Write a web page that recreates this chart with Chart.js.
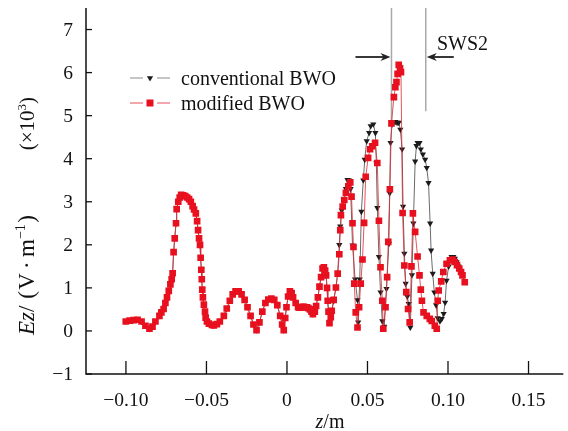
<!DOCTYPE html>
<html>
<head>
<meta charset="utf-8">
<title>Ez along z: conventional vs modified BWO</title>
<script src="https://cdn.jsdelivr.net/npm/chart.js@4.4.0/dist/chart.umd.min.js"></script>
<style>
  html, body { margin: 0; padding: 0; background: #fff; }
  canvas { display: block; }
</style>
</head>
<body>
<canvas id="ez-chart" width="568" height="431"></canvas>
<script>
const xTickValues = [-0.10, -0.05, 0, 0.05, 0.10, 0.15];
const xTickLabels = ['−0.10', '−0.05', '0', '0.05', '0.10', '0.15'];
const yTickValues = [-1, 0, 1, 2, 3, 4, 5, 6, 7];
const seriesNames = ['conventional BWO', 'modified BWO'];
const sws2Bounds = [0.0649, 0.0862];

// [z (m), Ez (x10^3 V/m)]; the two BWOs coincide up to z ~ 0.026
const sharedHead = [
  [-0.1001, 0.22], [-0.0977, 0.24], [-0.0952, 0.25], [-0.0928, 0.26], [-0.0903, 0.22], [-0.0879, 0.12],
  [-0.0854, 0.05], [-0.0835, 0.10], [-0.0817, 0.22], [-0.0792, 0.35], [-0.0780, 0.43], [-0.0766, 0.51],
  [-0.0755, 0.65], [-0.0745, 0.78], [-0.0734, 0.93], [-0.0724, 1.08], [-0.0716, 1.20], [-0.0710, 1.34],
  [-0.0704, 1.83], [-0.0697, 2.15], [-0.0689, 2.50], [-0.0685, 2.83], [-0.0675, 3.00], [-0.0666, 3.10],
  [-0.0657, 3.16], [-0.0645, 3.15], [-0.0632, 3.13], [-0.0620, 3.10], [-0.0608, 3.06], [-0.0597, 3.00],
  [-0.0586, 2.90], [-0.0577, 2.82], [-0.0566, 2.73], [-0.0558, 2.55], [-0.0552, 2.34], [-0.0546, 2.15],
  [-0.0540, 2.00], [-0.0536, 1.70], [-0.0532, 1.42], [-0.0529, 1.20], [-0.0526, 0.96], [-0.0522, 0.78],
  [-0.0516, 0.61], [-0.0509, 0.45], [-0.0505, 0.31], [-0.0497, 0.22], [-0.0485, 0.17], [-0.0466, 0.14],
  [-0.0454, 0.13], [-0.0435, 0.16], [-0.0417, 0.22], [-0.0392, 0.35], [-0.0374, 0.52], [-0.0355, 0.70],
  [-0.0337, 0.85], [-0.0319, 0.92], [-0.0300, 0.92], [-0.0282, 0.85], [-0.0263, 0.72], [-0.0245, 0.55],
  [-0.0226, 0.35], [-0.0208, 0.15], [-0.0189, 0.02], [-0.0171, 0.20], [-0.0153, 0.45], [-0.0134, 0.65],
  [-0.0116, 0.73], [-0.0097, 0.75], [-0.0079, 0.72], [-0.0060, 0.60], [-0.0042, 0.35], [-0.0030, 0.15],
  [-0.0020, 0.02], [-0.0011, 0.30], [-0.0003, 0.55], [0.0007, 0.80], [0.0018, 0.92], [0.0029, 0.88],
  [0.0038, 0.78], [0.0054, 0.65], [0.0069, 0.55], [0.0078, 0.54], [0.0087, 0.55], [0.0097, 0.56],
  [0.0106, 0.56], [0.0115, 0.55], [0.0124, 0.55], [0.0133, 0.53], [0.0143, 0.50], [0.0152, 0.45],
  [0.0161, 0.39], [0.0173, 0.45], [0.0181, 0.58], [0.0192, 0.78], [0.0202, 1.03], [0.0212, 1.25],
  [0.0221, 1.45], [0.0229, 1.48], [0.0237, 1.40], [0.0243, 1.29], [0.0249, 1.00], [0.0253, 0.70],
  [0.0258, 0.45]
];

const conventionalTail = [
  [0.0264, 0.20], [0.0278, 0.45], [0.0290, 0.70], [0.0304, 1.00], [0.0315, 1.35], [0.0325, 2.00],
  [0.0331, 2.43], [0.0340, 2.80], [0.0352, 3.05], [0.0366, 3.30], [0.0376, 3.51], [0.0386, 3.50],
  [0.0395, 3.30], [0.0407, 1.99], [0.0423, 1.20], [0.0438, 0.72], [0.0442, 0.20], [0.0452, 1.20],
  [0.0462, 2.77], [0.0474, 3.50], [0.0483, 3.98], [0.0495, 4.41], [0.0510, 4.60], [0.0520, 4.76],
  [0.0536, 4.80], [0.0549, 4.60], [0.0555, 3.90], [0.0561, 2.86], [0.0571, 1.72], [0.0581, 0.90],
  [0.0592, 0.23], [0.0604, 0.10], [0.0618, 0.98], [0.0633, 2.03], [0.0638, 3.20], [0.0643, 4.37],
  [0.0653, 4.80], [0.0664, 4.86], [0.0673, 4.86], [0.0684, 4.84], [0.0694, 4.84], [0.0704, 4.68],
  [0.0715, 4.22], [0.0721, 2.89], [0.0729, 1.80], [0.0737, 1.10], [0.0747, 0.80], [0.0756, 0.63],
  [0.0766, 0.08], [0.0776, 1.30], [0.0785, 2.50], [0.0796, 3.94], [0.0804, 4.30], [0.0811, 4.37],
  [0.0823, 4.37], [0.0831, 4.22], [0.0844, 4.10], [0.0858, 3.98], [0.0868, 3.79], [0.0879, 3.44],
  [0.0889, 2.50], [0.0895, 1.87], [0.0905, 1.33], [0.0915, 0.90], [0.0926, 0.60], [0.0936, 0.30],
  [0.0950, 0.23], [0.0961, 0.28], [0.0973, 0.40], [0.0982, 0.66], [0.0991, 1.17], [0.1004, 1.50],
  [0.1013, 1.65], [0.1022, 1.72], [0.1033, 1.72], [0.1042, 1.68], [0.1053, 1.60], [0.1065, 1.50]
];

const modifiedTail = [
  [0.0264, 0.18], [0.0272, 0.32], [0.0278, 0.47], [0.0290, 0.72], [0.0304, 1.01], [0.0315, 1.33],
  [0.0325, 1.78], [0.0331, 2.34], [0.0335, 2.69], [0.0346, 2.89], [0.0356, 3.04], [0.0366, 3.21],
  [0.0381, 3.36], [0.0393, 3.45], [0.0401, 3.12], [0.0407, 2.50], [0.0413, 1.95], [0.0418, 1.10],
  [0.0427, 0.43], [0.0438, 0.08], [0.0448, 0.55], [0.0458, 1.10], [0.0469, 1.66], [0.0479, 2.51],
  [0.0489, 3.58], [0.0504, 4.02], [0.0516, 4.22], [0.0530, 4.29], [0.0547, 4.37], [0.0561, 3.90],
  [0.0571, 2.56], [0.0581, 1.48], [0.0592, 0.70], [0.0598, 0.05], [0.0612, 0.55], [0.0622, 1.25],
  [0.0629, 2.07], [0.0639, 3.29], [0.0649, 4.82], [0.0664, 5.43], [0.0673, 5.66], [0.0680, 5.78],
  [0.0687, 5.97], [0.0694, 6.18], [0.0702, 6.10], [0.0708, 6.01], [0.0718, 2.74], [0.0729, 1.52],
  [0.0741, 0.90], [0.0752, 0.51], [0.0762, 0.20], [0.0773, 1.50], [0.0782, 2.73], [0.0796, 2.30],
  [0.0811, 1.73], [0.0823, 1.29], [0.0831, 0.96], [0.0838, 0.70], [0.0848, 0.43], [0.0868, 0.35],
  [0.0887, 0.28], [0.0899, 0.23], [0.0918, 0.12], [0.0930, 0.05], [0.0936, 0.70], [0.0942, 0.94],
  [0.0958, 1.15], [0.0971, 1.37], [0.0991, 1.56], [0.1012, 1.64], [0.1028, 1.66], [0.1042, 1.60],
  [0.1056, 1.53], [0.1070, 1.45], [0.1081, 1.37], [0.1090, 1.29], [0.1104, 1.13]
];

const serif = '"Liberation Serif", "Times New Roman", serif';
const toPoints = (rows) => rows.map(([z, ez]) => ({ x: z, y: ez }));

// text made of runs (italic / superscript pieces), with optional padding in em
function runFont(r, size) {
  return (r.it ? 'italic ' : '') + (r.sup ? size * 0.62 : size) + 'px ' + serif;
}
function runsWidth(ctx, runs, size) {
  let w = 0;
  runs.forEach(r => {
    ctx.font = runFont(r, size);
    w += ctx.measureText(r.t).width + ((r.pre || 0) + (r.post || 0)) * size;
  });
  return w;
}
function drawRuns(ctx, runs, x, y, size) {
  runs.forEach(r => {
    ctx.font = runFont(r, size);
    x += (r.pre || 0) * size;
    ctx.fillText(r.t, x, r.sup ? y - size * 0.38 : y);
    x += ctx.measureText(r.t).width + (r.post || 0) * size;
  });
}

function downTriangle(ctx, cx, cy, r) {
  ctx.beginPath();
  ctx.moveTo(cx - r * 0.87, cy - r * 0.5);
  ctx.lineTo(cx + r * 0.87, cy - r * 0.5);
  ctx.lineTo(cx, cy + r);
  ctx.closePath();
  ctx.fill();
}

function arrow(ctx, fromX, toX, y) {
  const dir = Math.sign(toX - fromX);
  ctx.beginPath();
  ctx.moveTo(fromX, y);
  ctx.lineTo(toX - dir * 6, y);
  ctx.stroke();
  ctx.beginPath();
  ctx.moveTo(toX, y);
  ctx.lineTo(toX - dir * 10, y - 4);
  ctx.lineTo(toX - dir * 7, y);
  ctx.lineTo(toX - dir * 10, y + 4);
  ctx.closePath();
  ctx.fill();
}

const paperAxes = {
  id: 'paperAxes',
  beforeDatasetsDraw(chart) {
    const { ctx, scales: { x, y } } = chart;
    const lineEnds = [4.85, 5.1];
    ctx.save();
    ctx.strokeStyle = '#a9a9a9';
    ctx.lineWidth = 1.5;
    sws2Bounds.forEach((z, i) => {
      const px = x.getPixelForValue(z);
      ctx.beginPath();
      ctx.moveTo(px, y.getPixelForValue(y.max));
      ctx.lineTo(px, y.getPixelForValue(lineEnds[i]));
      ctx.stroke();
    });
    ctx.restore();
  },
  afterDraw(chart) {
    const { ctx, chartArea: a, scales: { x, y } } = chart;
    ctx.save();

    // axis lines and inward ticks
    ctx.strokeStyle = '#111';
    ctx.lineWidth = 1.5;
    ctx.beginPath();
    ctx.moveTo(a.left, a.top);
    ctx.lineTo(a.left, a.bottom);
    ctx.lineTo(a.right, a.bottom);
    ctx.stroke();
    ctx.lineWidth = 1.3;
    yTickValues.forEach(v => {
      const py = y.getPixelForValue(v);
      ctx.beginPath();
      ctx.moveTo(a.left, py);
      ctx.lineTo(a.left + 6, py);
      ctx.stroke();
    });
    xTickValues.forEach(v => {
      const px = x.getPixelForValue(v);
      ctx.beginPath();
      ctx.moveTo(px, a.bottom);
      ctx.lineTo(px, a.bottom - 13);
      ctx.stroke();
    });

    // tick labels
    ctx.fillStyle = '#111';
    ctx.font = '19.5px ' + serif;
    ctx.textAlign = 'right';
    ctx.textBaseline = 'middle';
    yTickValues.forEach(v => {
      ctx.fillText(v < 0 ? '−' + Math.abs(v) : String(v), a.left - 13, y.getPixelForValue(v) + 1);
    });
    ctx.textAlign = 'center';
    xTickValues.forEach((v, i) => ctx.fillText(xTickLabels[i], x.getPixelForValue(v), a.bottom + 27));

    // axis titles
    ctx.textAlign = 'left';
    ctx.textBaseline = 'alphabetic';
    const xTitle = [{ t: 'z', it: true }, { t: '/m' }];
    const xs = 20;
    drawRuns(ctx, xTitle, 330 - runsWidth(ctx, xTitle, xs) / 2, 428, xs);

    const yTitleA = [
      { t: 'Ez', it: true }, { t: '/' }, { t: '(', pre: 0.3, post: 0.06 }, { t: 'V' },
      { t: '·', pre: 0.18, post: 0.18 }, { t: 'm' }, { t: '−1', sup: true }, { t: ')', pre: 0.06, post: 0.3 }
    ];
    const yTitleB = [{ t: '(×10' }, { t: '3', sup: true }, { t: ')' }];
    ctx.translate(34, 0);
    ctx.rotate(-Math.PI / 2);
    drawRuns(ctx, yTitleA, -335, 0, 23);
    drawRuns(ctx, yTitleB, -97 - runsWidth(ctx, yTitleB, 21), 0, 21);
    ctx.setTransform(1, 0, 0, 1, 0, 0);

    // legend
    const rows = [78, 103];
    ctx.font = '20px ' + serif;
    ctx.textBaseline = 'middle';
    ctx.lineWidth = 1;
    rows.forEach((ry, i) => {
      ctx.strokeStyle = i === 0 ? '#8c8c8c' : '#e8505a';
      ctx.beginPath();
      ctx.moveTo(130, ry); ctx.lineTo(143, ry);
      ctx.moveTo(157, ry); ctx.lineTo(170, ry);
      ctx.stroke();
      if (i === 0) {
        ctx.fillStyle = '#1b1b1b';
        downTriangle(ctx, 150, ry, 3.6);
      } else {
        ctx.fillStyle = '#e8101e';
        ctx.fillRect(146.5, ry - 3.5, 7, 7);
      }
      ctx.fillStyle = '#111';
      ctx.fillText(seriesNames[i], 181, ry + 2);
    });

    // SWS2 marker
    const left = x.getPixelForValue(sws2Bounds[0]);
    const right = x.getPixelForValue(sws2Bounds[1]);
    ctx.strokeStyle = '#222';
    ctx.fillStyle = '#222';
    ctx.lineWidth = 1.8;
    arrow(ctx, left - 36, left - 1, 57);
    arrow(ctx, right + 28, right + 1, 57);
    ctx.fillStyle = '#111';
    ctx.font = '20px ' + serif;
    ctx.textBaseline = 'alphabetic';
    ctx.fillText('SWS2', 437, 50);

    ctx.restore();
  }
};

new Chart(document.getElementById('ez-chart'), {
  type: 'scatter',
  data: {
    datasets: [
      {
        label: seriesNames[0],
        data: toPoints(sharedHead.concat(conventionalTail)),
        showLine: true,
        borderColor: '#6a6a6a',
        borderWidth: 1,
        pointStyle: 'triangle',
        pointRotation: 180,
        pointRadius: 3.6,
        pointBackgroundColor: '#1b1b1b',
        pointBorderWidth: 0,
        order: 1
      },
      {
        label: seriesNames[1],
        data: toPoints(sharedHead.concat(modifiedTail)),
        showLine: true,
        borderColor: 'rgba(225, 40, 50, 0.8)',
        borderWidth: 1,
        pointStyle: 'rect',
        pointRadius: 4.7,
        pointBackgroundColor: '#e8101e',
        pointBorderWidth: 0,
        order: 0
      }
    ]
  },
  options: {
    responsive: false,
    animation: false,
    devicePixelRatio: 1,
    events: [],
    layout: { padding: { left: 86, right: 0, top: 8, bottom: 57 } },
    scales: {
      x: { type: 'linear', min: -0.1248, max: 0.1716, display: false },
      y: { type: 'linear', min: -1, max: 7.5, display: false }
    },
    plugins: {
      legend: { display: false },
      tooltip: { enabled: false }
    }
  },
  plugins: [paperAxes]
});
</script>
</body>
</html>
